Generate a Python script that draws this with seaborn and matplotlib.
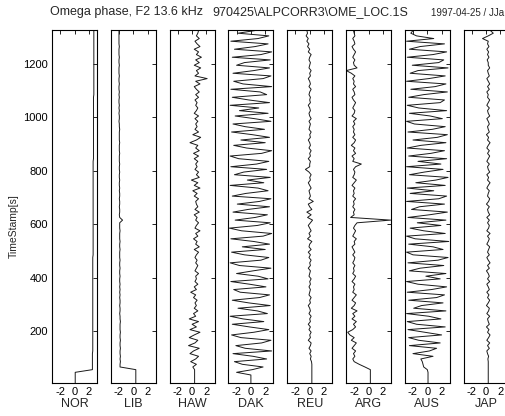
import numpy as np
import pandas as pd
import matplotlib
matplotlib.use("Agg")
import matplotlib.pyplot as plt
import seaborn as sns

# ---------------- data ----------------
STATIONS = ["NOR", "LIB", "HAW", "DAK", "REU", "ARG", "AUS", "JAP"]
TIME_S = list(range(5, 1335, 10))  # 133 samples, 10 s spacing
X_TICKS = [-2, 0, 2]
Y_TICKS = [200, 400, 600, 800, 1000, 1200]

TITLE_LEFT = "Omega phase, F2 13.6 kHz"
TITLE_MID = "970425\\ALPCORR3\\OME_LOC.1S"
TITLE_RIGHT = "1997-04-25 / JJa"
Y_LABEL = "TimeStamp[s]"

NOR = [0.1, 0.1, 0.1, 0.1, 0.1, 2.5, 2.5, 2.5, 2.5, 2.5, 2.5, 2.5,
       2.55, 2.55, 2.55, 2.55, 2.55, 2.55, 2.55, 2.55, 2.55, 2.55, 2.55, 2.55,
       2.55, 2.55, 2.55, 2.55, 2.55, 2.55, 2.55, 2.55, 2.55, 2.55, 2.55, 2.55,
       2.55, 2.55, 2.55, 2.55, 2.55, 2.55, 2.55, 2.55, 2.55, 2.55, 2.55, 2.55,
       2.6, 2.6, 2.6, 2.6, 2.6, 2.6, 2.6, 2.6, 2.6, 2.6, 2.6, 2.6,
       2.6, 2.6, 2.6, 2.6, 2.6, 2.6, 2.6, 2.6, 2.6, 2.6, 2.6, 2.6,
       2.6, 2.6, 2.6, 2.6, 2.6, 2.6, 2.6, 2.6, 2.6, 2.6, 2.6, 2.6,
       2.65, 2.65, 2.65, 2.65, 2.65, 2.65, 2.65, 2.65, 2.65, 2.65, 2.65, 2.65,
       2.65, 2.65, 2.65, 2.65, 2.65, 2.65, 2.65, 2.65, 2.65, 2.65, 2.65, 2.65,
       2.7, 2.7, 2.7, 2.7, 2.7, 2.7, 2.7, 2.7, 2.7, 2.7, 2.7, 2.7,
       2.7, 2.7, 2.7, 2.7, 2.7, 2.7, 2.7, 2.7, 2.7, 2.7, 2.7, 2.7, 2.7]

LIB = [0.35, 0.35, 0.35, 0.35, 0.35, 0.35, -1.85, -1.85, -1.8, -1.85, -1.8, -1.85,
       -1.85, -1.8, -1.85, -1.85, -1.8, -1.85, -1.85, -1.8, -1.85, -1.85, -1.85, -1.8,
       -1.85, -1.85, -1.9, -1.85, -1.85, -1.9, -1.85, -1.85, -1.9, -1.85, -1.9, -1.85,
       -1.9, -1.85, -1.9, -1.9, -1.85, -1.9, -1.9, -1.85, -1.9, -1.9, -1.85, -1.9,
       -1.9, -1.9, -1.85, -1.9, -1.9, -1.85, -1.9, -1.9, -1.9, -1.85, -1.9, -1.9,
       -1.9, -1.5, -1.9, -1.95, -1.9, -1.9, -1.95, -1.9, -1.9, -1.95, -1.9, -1.9,
       -1.95, -1.9, -1.95, -1.95, -1.9, -1.95, -1.95, -1.9, -1.95, -1.95, -1.9, -1.95,
       -1.95, -1.95, -1.9, -1.95, -1.95, -1.95, -1.9, -1.95, -1.95, -1.95, -1.95, -1.9,
       -1.95, -1.95, -2.0, -1.95, -1.95, -2.0, -1.95, -2.0, -1.95, -2.0, -2.0, -1.95,
       -2.0, -1.95, -2.0, -2.0, -1.95, -2.0, -2.0, -1.95, -2.0, -2.0, -2.0, -1.95,
       -2.0, -2.0, -1.95, -2.0, -2.0, -2.0, -1.95, -2.0, -2.0, -2.0, -2.0, -2.0, -2.0]

HAW = [0.35, 0.35, 0.35, 0.35, 0.35, 0.35, 0.1, 0.6, -0.2, 0.5, 0.9, -0.3,
       0.2, 1.0, -0.5, 0.4, 0.8, -0.4, 0.3, 1.1, -0.3, 0.6, 0.0, 0.9,
       -0.4, 0.5, 0.2, 0.8, 0.3, 0.6, 0.4, 0.7, 0.2, 0.5, -0.2, 0.6,
       0.3, 0.8, 0.4, 0.6, 0.5, 0.9, 0.4, 0.6, 0.8, 0.5, 0.7, 0.4,
       0.6, 0.9, 0.3, 1.0, 0.5, 0.7, 0.2, 0.8, 0.5, 1.1, 0.4, 0.6,
       0.9, 0.5, 0.7, 0.3, 1.0, 0.4, 0.8, 0.6, 0.5, 0.9, 0.3, 0.7,
       0.1, 1.1, 0.3, 0.8, -0.1, 1.0, 0.6, 0.9, 0.4, 0.7, 0.5, 0.8,
       0.3, 0.9, 0.2, 1.0, 0.5, 0.8, -0.3, 0.6, 1.2, 0.1, 0.9, 0.4,
       0.7, 0.5, 0.8, 0.4, 0.9, 0.3, 0.6, 0.8, 0.5, 0.7, 0.4, 0.9,
       0.5, 1.0, 0.6, 0.3, 1.1, 0.5, 2.1, 0.4, 0.9, 0.6, 1.2, 0.3,
       1.0, 0.5, 1.3, 0.6, 0.9, 0.3, 1.1, 0.7, 0.4, 1.0, 0.6, 0.8, 0.9]

DAK = [0.0, 0.0, 0.0, 0.0, -2.0, 0.2, 1.7, -1.2, -2.3, 2.2, 0.3, -2.5,
       2.9, -0.8, -2.1, 1.5, 2.8, -1.4, -2.7, 0.4, 2.5, -0.2, -2.6, 1.8,
       -1.1, -2.9, 2.3, 0.9, -1.8, 2.7, -0.3, -2.6, 1.2, 2.6, -1.5, -2.4,
       2.1, -0.2, -2.8, 2.4, 1.0, -2.0, 0.3, 2.8, -1.6, -2.9, 1.4, 2.5,
       -0.9, -2.7, 2.0, -1.2, 2.6, 0.4, -2.8, 1.7, 2.9, -1.3, -3.0, 0.9,
       2.7, -2.2, 0.6, 2.3, -2.5, -0.4, 2.6, -1.9, 1.2, 2.8, -2.6, -0.7,
       2.4, 1.0, -2.9, 1.8, -0.5, 2.7, -2.3, -1.0, 2.2, -2.8, 0.8, 2.5,
       -1.7, -2.9, 1.5, 2.9, -0.6, -2.4, 2.0, -1.4, 2.6, 0.2, -2.7, 1.9,
       -0.8, -2.5, 2.8, 0.5, -2.2, 2.4, -1.6, 1.1, -2.9, 2.6, -0.3, -2.6,
       2.2, 1.3, -2.8, 2.9, -1.1, -2.4, 1.7, 2.8, -2.5, 0.4, 2.6, -2.0,
       -0.9, 2.7, -2.6, 1.4, 2.9, -2.3, 0.6, 2.4, -2.8, 1.0, 2.5, -1.8, 0.6]

REU = [0.3, 0.3, 0.3, 0.3, 0.3, 0.3, 0.3, 0.3, 0.25, 0.1, 0.2, 0.0,
       0.2, -0.1, 0.1, 0.2, -0.2, 0.1, 0.0, 0.2, -0.1, 0.1, -0.2, 0.1,
       0.0, 0.2, -0.1, 0.1, 0.0, -0.2, 0.1, 0.0, 0.2, -0.1, 0.0, 0.1,
       -0.1, 0.1, 0.0, 0.2, -0.1, 0.0, 0.1, -0.2, 0.1, 0.0, 0.2, -0.1,
       0.1, -0.2, 0.2, -0.1, 0.0, 0.3, -0.3, 0.1, -0.1, 0.2, 0.0, -0.2,
       0.1, 0.4, -0.3, 0.2, -0.4, 0.3, 0.0, -0.2, 0.5, -0.1, 0.1, 0.0,
       -0.1, 0.2, 0.0, -0.2, 0.1, 0.0, 0.2, -0.1, -0.6, 0.0, 0.0, 0.1,
       -0.2, 0.1, 0.0, 0.2, -0.1, 0.1, 0.0, -0.2, 0.1, 0.0, 0.2, -0.1,
       0.0, 0.1, -0.1, 0.2, 0.0, -0.1, 0.1, 0.0, -0.2, 0.1, 0.0, 0.1,
       -0.1, 0.0, 0.2, -0.1, 0.1, 0.0, -0.2, 0.1, 0.0, 0.2, -0.1, 0.0,
       0.1, -0.1, 0.0, 0.2, -0.2, 0.0, -0.3, -0.1, -0.4, -0.2, -0.5, -0.3, -0.4]

ARG = [0.26, 0.26, 0.26, 0.26, 0.26, 0.26, -0.5, -1.3, -2.0, -2.2, -1.9, -2.1,
       -1.8, -2.3, -2.0, -1.7, -2.4, -2.0, -2.6, -2.9, -2.2, -1.8, -2.1, -1.7,
       -2.3, -1.9, -2.2, -1.6, -2.4, -2.0, -1.8, -2.3, -2.0, -1.7, -2.2, -2.0,
       -2.1, -1.9, -2.3, -2.0, -1.8, -2.2, -2.0, -2.1, -1.9, -2.2, -2.0, -1.9,
       -2.2, -1.9, -2.1, -2.3, -1.9, -2.0, -1.7, -2.2, -2.0, -1.8, -2.1, -1.9,
       -1.6, 3.1, -2.5, -2.0, -2.1, -1.9, -2.2, -2.0, -2.1, -1.8, -2.2, -2.0,
       -2.1, -1.9, -2.3, -2.0, -1.7, -2.2, -2.0, -1.9, -2.1, -1.8, -1.0, -2.2,
       -2.0, -2.3, -1.8, -2.1, -1.9, -2.4, -2.0, -1.8, -2.2, -1.9, -2.1, -2.0,
       -2.2, -1.9, -2.1, -1.7, -2.3, -2.0, -1.9, -2.2, -2.0, -1.8, -2.1, -2.3,
       -1.9, -2.0, -2.2, -1.8, -2.1, -2.0, -2.2, -1.9, -2.4, -3.1, -1.6, -2.0,
       -2.1, -1.9, -2.2, -2.0, -1.8, -2.1, -2.3, -1.9, -2.0, -2.2, -1.9, -2.0, -2.1]

AUS = [0.1, 0.1, 0.1, 0.1, 0.1, 0.0, -0.5, -0.6, -0.7, -0.9, 0.8, -2.0,
       0.3, 1.3, -2.5, 1.8, -1.2, -2.6, 2.0, -0.4, -2.7, 2.5, -1.5, -2.8,
       1.9, 0.2, -2.9, 2.6, -1.9, -0.8, 2.2, -2.6, 1.3, 2.4, -2.8, 0.6,
       2.7, -1.3, -2.9, 1.8, -0.2, 2.6, -2.5, -1.0, 2.3, -2.7, 1.5, 2.9,
       -2.0, -2.9, 2.2, 0.8, -2.6, 3.0, -1.7, -2.9, 2.5, -0.5, -2.4, 1.9,
       -1.4, 2.6, -2.7, 0.3, 2.8, -2.2, -1.1, 2.4, -2.9, 1.6, 2.7, -2.4,
       0.9, -2.8, 2.5, -1.6, 1.2, 2.9, -2.5, -0.4, 2.2, -2.9, 1.9, -1.3,
       2.7, -2.6, 0.5, 2.4, -2.8, -0.9, 2.6, -2.0, 1.4, 2.8, -2.7, 0.7,
       2.5, -1.8, -2.9, 2.1, 0.4, -2.5, 2.7, -1.2, -2.8, 1.8, 2.4, -2.6,
       -0.5, 2.8, -2.3, 1.1, 2.6, -2.9, 0.2, 2.5, -2.4, -1.3, 2.9, -2.1,
       1.6, 2.3, -2.8, 0.8, 2.7, -2.5, -1.0, 2.4, -2.9, 0.9, -1.5, -2.3, -2.0]

JAP = [0.3, 0.3, 0.3, 0.3, 0.3, 0.3, 0.3, 0.3, 0.3, 0.25, 0.35, 0.2,
       0.1, 0.45, 0.2, 0.5, 0.1, 0.35, 0.55, 0.2, 0.4, 0.05, 0.45, 0.3,
       0.2, 0.5, 0.1, 0.35, 0.45, 0.05, 0.3, 0.5, 0.2, 0.4, 0.1, 0.45,
       0.3, 0.1, 0.5, 0.2, 0.45, 0.3, 0.05, 0.45, 0.2, 0.55, 0.3, 0.1,
       0.45, 0.2, 0.35, 0.5, 0.1, 0.3, 0.45, 0.2, 0.55, 0.1, 0.35, 0.45,
       0.2, 0.45, 0.1, 0.5, 0.3, 0.2, 0.45, 0.05, 0.35, 0.5, 0.2, 0.3,
       0.45, 0.1, 0.3, 0.55, 0.2, 0.35, 0.1, 0.5, 0.3, 0.2, 0.45, 0.1,
       0.3, 0.5, 0.2, 0.45, 0.1, 0.3, 0.55, 0.2, 0.35, 0.05, 0.45, 0.3,
       0.2, 0.45, 0.3, 0.1, 0.5, 0.3, 0.2, 0.45, 0.1, 0.3, 0.5, 0.2,
       0.3, 0.1, 0.45, 0.2, 0.5, 0.3, 0.1, 0.45, 0.3, 0.2, 0.5, 0.3,
       0.3, 0.15, 0.4, 0.2, 0.35, 0.1, 0.4, 0.2, 0.3, -0.5, 0.3, 1.0, 0.6]

SERIES = {"NOR": NOR, "LIB": LIB, "HAW": HAW, "DAK": DAK,
          "REU": REU, "ARG": ARG, "AUS": AUS, "JAP": JAP}

frames = []
for name in STATIONS:
    frames.append(pd.DataFrame({"station": name, "time": TIME_S,
                                "phase": SERIES[name]}))
df = pd.concat(frames, ignore_index=True)

# ---------------- style ----------------
sns.set_style("white")
plt.rcParams["font.family"] = ["Liberation Sans", "DejaVu Sans"]

W, H = 505, 416
fig = plt.figure(figsize=(W / 100, H / 100), dpi=100)

ax_w = 45
bottom_px, top_px = 383, 30
line_col = "#1a1a1a"

for i, name in enumerate(STATIONS):
    left_px = 52 + 58.8 * i
    ax = fig.add_axes([left_px / W, 1 - bottom_px / H, ax_w / W,
                       (bottom_px - top_px) / H])
    sub = df[df["station"] == name]
    sns.lineplot(data=sub, x="phase", y="time", sort=False, estimator=None,
                 color=line_col, linewidth=0.7, ax=ax)
    ax.set_xlim(-np.pi, np.pi)
    ax.set_ylim(5, 1327)
    ax.set_xticks(X_TICKS)
    ax.set_xticklabels([str(v) for v in X_TICKS])
    ax.set_yticks(Y_TICKS)
    ax.tick_params(direction="in", length=3, width=0.6, top=True, right=True,
                   labelsize=8, pad=3, colors="black")
    ax.tick_params(axis="x", pad=3)
    for sp in ax.spines.values():
        sp.set_color("black")
        sp.set_linewidth(0.8)
    ax.set_xlabel(name, fontsize=9, labelpad=0.3)
    ax.set_ylabel("")
    if i == 0:
        ax.set_yticklabels([str(v) for v in Y_TICKS])
    else:
        ax.tick_params(labelleft=False)
    if ax.get_legend():
        ax.get_legend().remove()

fig.text(14 / W, 1 - 226 / H, Y_LABEL, rotation=90, fontsize=7.5,
         ha="center", va="center")
fig.text(50 / W, 1 - 12 / H, TITLE_LEFT, fontsize=9, ha="left", va="center")
fig.text(212 / W, 1 - 12 / H, TITLE_MID, fontsize=9, ha="left", va="center")
fig.text(431 / W, 1 - 13.5 / H, TITLE_RIGHT, fontsize=7, ha="left",
         va="center")

fig.savefig("out.png", dpi=100, facecolor="white")
